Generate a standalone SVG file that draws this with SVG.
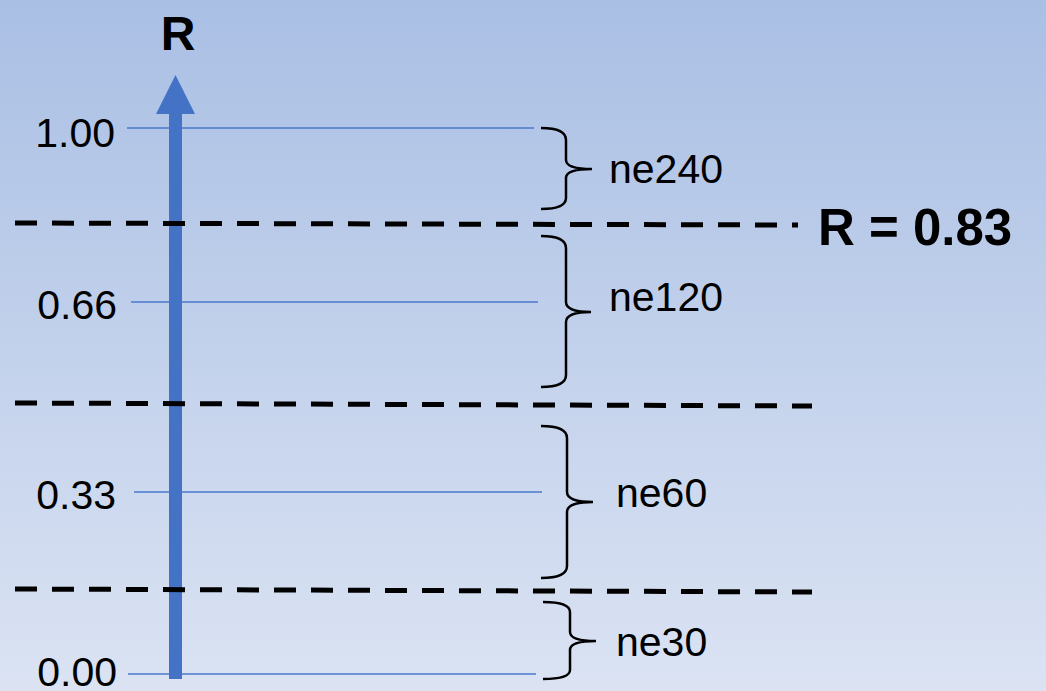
<svg xmlns="http://www.w3.org/2000/svg" width="1046" height="691" viewBox="0 0 1046 691">
<defs>
<linearGradient id="bg" x1="0" y1="0" x2="0" y2="1">
<stop offset="0" stop-color="#a9bfe4"/>
<stop offset="1" stop-color="#dbe3f3"/>
</linearGradient>
<style>
.lbl{font-family:"Liberation Sans",Arial,sans-serif;font-size:41px;fill:#000}
.bold{font-family:"Liberation Sans",Arial,sans-serif;font-weight:bold;fill:#000}
.tick{stroke:#4a78cc;stroke-width:1.5;fill:none}
.dash{stroke:#000;stroke-width:5;stroke-dasharray:22 15;fill:none}
.brace{stroke:#000;stroke-width:2.5;fill:none}
</style>
</defs>
<rect width="1046" height="691" fill="url(#bg)"/>
<g id="ticks">
<line class="tick" x1="127" y1="128" x2="534" y2="128"/>
<line class="tick" x1="131" y1="302" x2="538" y2="302"/>
<line class="tick" x1="134" y1="492" x2="542" y2="492"/>
<line class="tick" x1="128" y1="674" x2="536" y2="674"/>
</g>
<g id="axis">
<rect x="169" y="112" width="13" height="567" fill="#4472c4"/>
<polygon points="175.5,75 195,114 156,114" fill="#4472c4"/>
<text class="bold" x="178" y="50" font-size="48" text-anchor="middle">R</text>
</g>
<g id="thresholds">
<line class="dash" x1="15" y1="223" x2="798" y2="225"/>
<line class="dash" x1="15" y1="403" x2="812" y2="406"/>
<line class="dash" x1="15" y1="589" x2="812" y2="592"/>
<text class="bold" x="818" y="245" font-size="51">R = 0.83</text>
</g>
<g id="labels">
<text class="lbl" x="115" y="147" text-anchor="end">1.00</text>
<text class="lbl" x="117" y="319" text-anchor="end">0.66</text>
<text class="lbl" x="116" y="509" text-anchor="end">0.33</text>
<text class="lbl" x="117" y="686" text-anchor="end">0.00</text>
</g>
<g id="ne240">
<path class="brace" d="M541,128 Q566,128 566,140 L566,160 Q566,169 592,169 Q566,169 566,178 L566,198 Q566,209 541,209"/>
<text class="lbl" x="609" y="183">ne240</text>
</g>
<g id="ne120">
<path class="brace" d="M541,236 Q566,236 566,248 L566,302 Q566,312 591,312 Q566,312 566,322 L566,375 Q566,387 541,387"/>
<text class="lbl" x="609" y="311">ne120</text>
</g>
<g id="ne60">
<path class="brace" d="M541,426 Q567,426 567,438 L567,492 Q567,502 593,502 Q567,502 567,512 L567,566 Q567,578 541,578"/>
<text class="lbl" x="616" y="507">ne60</text>
</g>
<g id="ne30">
<path class="brace" d="M543,602 Q570,602 570,612 L570,632 Q570,641 596,641 Q570,641 570,650 L570,670 Q570,679 543,679"/>
<text class="lbl" x="616" y="656">ne30</text>
</g>
</svg>
